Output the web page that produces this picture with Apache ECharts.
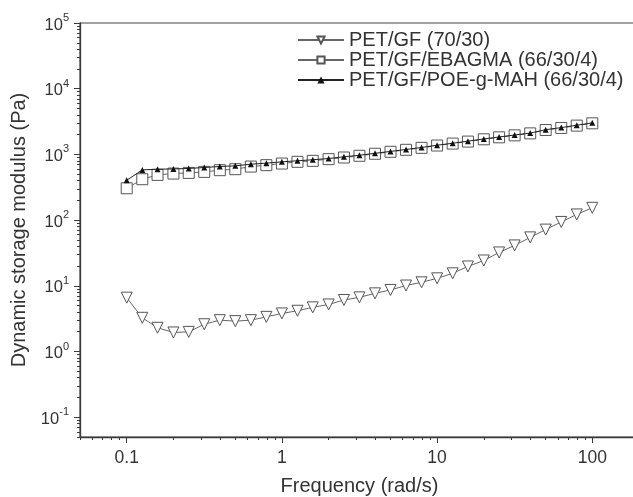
<!DOCTYPE html>
<html><head><meta charset="utf-8">
<script src="https://cdn.jsdelivr.net/npm/echarts@6/dist/echarts.min.js"></script>
<style>html,body{margin:0;padding:0;background:#fff}#c{width:633px;height:497px}</style>
</head><body><div id="c"></div>
<script>
const freq = [0.1,0.126,0.158,0.2,0.251,0.316,0.398,0.501,0.631,0.794,1,1.26,1.58,2,2.51,3.16,3.98,5.01,6.31,7.94,10,12.6,15.8,20,25.1,31.6,39.8,50.1,63.1,79.4,100];
const petGF = [6.6,3.26,2.3,1.95,1.99,2.6,3.0,2.9,3.0,3.37,3.8,4.17,4.7,5.2,6.08,6.67,7.68,8.65,10.1,11.3,13.0,15.5,19.7,24.3,32.2,41.2,54.6,71.7,93.8,122,154];
const ebagma = [305,419,488,511,523,542,575,596,653,686,726,771,798,847,897,953,1023,1096,1175,1259,1365,1462,1567,1698,1820,1950,2089,2354,2529,2742,2972];
const poe = [404,581,596,600,612,632,655,670,710,736,771,800,829,866,920,970,1040,1110,1190,1275,1380,1480,1590,1720,1840,1975,2110,2380,2560,2780,3020];
const xMajorTicks = [0.1,1,10,100];
const yMajorTicks = [0.1,1,10,100,1000,10000,100000];
const names = ['PET/GF (70/30)','PET/GF/EBAGMA (66/30/4)','PET/GF/POE-g-MAH (66/30/4)'];

function minorTicks(lo, hi){
  const out=[];
  for(let d=Math.floor(Math.log10(lo)); d<=Math.ceil(Math.log10(hi)); d++){
    for(let m=2;m<=9;m++){const v=m*Math.pow(10,d); if(v>=lo-1e-12&&v<=hi+1e-12) out.push(+v.toPrecision(6));}
  }
  return out;
}
const xMin=0.05,xMax=200,yMin=0.05,yMax=100000;
const axisColor='#3a3a3a';
const txt='#333';
const font='Liberation Sans, Arial, sans-serif';
const chart = echarts.init(document.getElementById('c'));
const pair = (xs,ys)=>xs.map((x,i)=>[x,ys[i]]);
const baseX = {type:'log',logBase:10,min:xMin,max:xMax,gridIndex:0,position:'bottom'};
const baseY = {type:'log',logBase:10,min:yMin,max:yMax,gridIndex:0,position:'left'};
chart.setOption({
  animation:false,
  backgroundColor:'#fff',
  grid:{left:80,width:559,top:23,height:414,show:true,borderColor:'#444',borderWidth:1.2,
        containLabel:false,outerBoundsMode:'none'},
  legend:{
    left:297, top:30, padding:0, orient:'vertical', itemGap:0, itemWidth:46, itemHeight:9,
    textStyle:{fontFamily:font,fontSize:20,color:txt,lineHeight:19},
    data:names
  },
  xAxis:[
    Object.assign({},baseX,{
      name:'Frequency (rad/s)', nameLocation:'middle', nameGap:39,
      nameTextStyle:{fontFamily:font,fontSize:20,color:txt},
      axisLine:{lineStyle:{color:axisColor,width:1.3}},
      axisTick:{show:true,inside:false,length:6,customValues:xMajorTicks,lineStyle:{color:axisColor}},
      axisLabel:{customValues:xMajorTicks,fontFamily:font,fontSize:17.5,color:txt,margin:12,
        formatter:v=>String(+v.toPrecision(3))},
      splitLine:{show:false}
    }),
    Object.assign({},baseX,{
      axisLine:{show:false},
      axisTick:{show:true,inside:false,length:3,customValues:minorTicks(xMin,xMax),lineStyle:{color:axisColor}},
      axisLabel:{show:false},splitLine:{show:false}
    })
  ],
  yAxis:[
    Object.assign({},baseY,{
      name:'Dynamic storage modulus (Pa)', nameLocation:'middle', nameGap:50,
      nameTextStyle:{fontFamily:font,fontSize:20,color:txt},
      axisLine:{lineStyle:{color:axisColor,width:1.3}},
      axisTick:{show:true,inside:false,length:6,customValues:yMajorTicks,lineStyle:{color:axisColor}},
      axisLabel:{customValues:yMajorTicks,fontFamily:font,color:txt,margin:11,
        formatter:v=>'{b|10}{s|'+Math.round(Math.log10(v))+'}',
        rich:{b:{fontFamily:font,fontSize:16.5,color:txt,verticalAlign:'bottom',lineHeight:21},
              s:{fontFamily:font,fontSize:11,color:txt,verticalAlign:'top',lineHeight:21}}},
      splitLine:{show:false}
    }),
    Object.assign({},baseY,{
      axisLine:{show:false},
      axisTick:{show:true,inside:false,length:3,customValues:minorTicks(yMin,yMax),lineStyle:{color:axisColor}},
      axisLabel:{show:false},splitLine:{show:false}
    })
  ],
  series:[
    {name:names[0],type:'line',data:pair(freq,petGF),symbol:'triangle',symbolRotate:180,symbolSize:11,
      showAllSymbol:true,itemStyle:{color:'#fff',borderColor:'#555',borderWidth:1},
      lineStyle:{color:'#666',width:1},z:3},
    {name:names[1],type:'line',data:pair(freq,ebagma),symbol:'rect',symbolSize:11,
      showAllSymbol:true,itemStyle:{color:'#fff',borderColor:'#555',borderWidth:1},
      lineStyle:{color:'#666',width:1},z:3},
    {name:names[2],type:'line',data:pair(freq,poe),symbol:'triangle',symbolSize:6,
      showAllSymbol:true,itemStyle:{color:'#111',borderColor:'#111',borderWidth:0},
      lineStyle:{color:'#222',width:1},z:4}
  ]
});
</script></body></html>
